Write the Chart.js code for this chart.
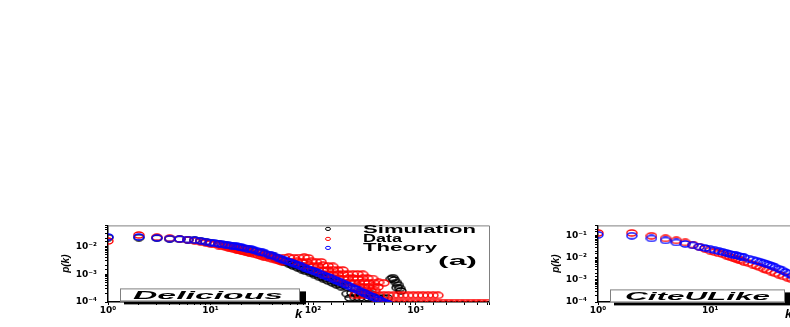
<!DOCTYPE html>
<html>
<head>
<title>Degree distribution p(k)</title>
<script src="https://cdn.jsdelivr.net/npm/chart.js"></script>
<style>
    html, body { margin: 0; padding: 0; background: #fff; }
    body { width: 790px; height: 327px; overflow: hidden; position: relative; }
    canvas { position: absolute; top: 212px; }
    #left { left: 60px; }
    #right { left: 550px; }
</style>
</head>
<body>
<canvas id="left" width="440" height="115" style="width:440px;height:115px"></canvas>
<canvas id="right" width="440" height="115" style="width:440px;height:115px"></canvas>
<script>
// ---- panel (a): Delicious ----
const simK = [1,2,3,4,5,6,7,8,9,10,12,14,16,18,20,23,26,30,34,38,42,47,52,58,64,71,78,86,95,105,116,128,141,155,170,188,
    40,45,50,56,62,68,75,82,90,100,110,122,135,150,165,180,200,215,
    580,600,620,650,660,680,700,720,
    215,240,265,295,330,365,
    230,255,283,315,350,390,430,480,530];
const simP = [0.021,0.021,0.020,0.019,0.0183,0.0175,0.0166,0.0157,0.0147,0.0137,0.0122,0.0110,0.0102,0.0094,0.0087,0.0078,0.0070,0.0060,
    0.0052,0.0045,0.0039,0.0033,0.0028,0.0024,0.0020,0.00172,0.00148,0.00126,0.00108,0.00092,0.00078,0.00066,0.00057,0.00049,0.00042,0.00036,
    0.0047,0.0038,0.0032,0.0027,0.0023,0.0021,0.00175,0.00155,0.00135,0.00115,0.00098,0.00082,0.00071,0.00060,0.00052,0.00046,0.00040,0.00034,
    0.00068,0.00075,0.00062,0.00050,0.00033,0.00040,0.00031,0.00025,
    0.00020,0.00021,0.00020,0.00019,0.00021,0.00020,
    0.00014,0.000145,0.00014,0.000135,0.00014,0.000145,0.00014,0.000135,0.00014];

const dataK = [1,2,3,4,5,6,7,8,9,10,11,12,13,14,15,16,17,18,19,20,21,22,23,24,25,27,29,31,33,35,38,41,44,47,50,
    12,14,16,18,20,23,26,30,34,38,42,46,
    52,58,65,73,82,90,
    62,70,78,87,97,108,120,
    80,90,100,112,125,140,156,
    100,112,125,140,156,175,195,
    125,140,156,175,195,218,244,272,305,
    160,178,198,220,245,273,305,340,380,
    205,228,254,283,315,350,390,435,490,
    255,283,315,350,390,430,
    300,330,365,400,
    255,285,318,355,395,440,490,545,610,680,760,850,950,1060,1180,1320,1480,1650,
    425,480,540,610,690,780,880,1000,1130,1280,1450,1640,1860,2100,2380,2700,3050,3450,3900,4400,5000];
const dataP = [0.0158,0.026,0.0215,0.0196,0.0186,0.0172,0.0163,0.0150,0.0138,0.0125,0.0118,0.0108,0.0102,0.0095,0.0090,0.0085,0.0079,0.0076,0.0072,0.0069,
    0.0066,0.0063,0.0061,0.0058,0.0056,0.0052,0.0049,0.0046,0.0043,0.0041,0.0037,0.0034,0.0032,0.0030,0.0028,
    0.0120,0.0106,0.0097,0.0088,0.0080,0.0072,0.0064,0.0057,0.0050,0.0044,0.0040,0.0036,
    0.0040,0.0041,0.0039,0.0040,0.0041,0.0039,
    0.0028,0.0029,0.0027,0.0028,0.0029,0.0027,0.0028,
    0.0020,0.0021,0.0019,0.0020,0.0021,0.0020,0.0019,
    0.00141,0.00145,0.00138,0.00141,0.00145,0.00138,0.00141,
    0.0010,0.00103,0.00098,0.0010,0.00103,0.00098,0.0010,0.00102,0.00099,
    0.00071,0.00073,0.00069,0.00071,0.00073,0.00069,0.00071,0.00072,0.00070,
    0.00050,0.00052,0.00049,0.00050,0.00052,0.00049,0.00050,0.00051,0.00049,
    0.000355,0.000365,0.000350,0.000355,0.000365,0.000350,
    0.00026,0.000265,0.000255,0.00026,
    0.000174,0.000176,0.000172,0.000174,0.000176,0.000172,0.000174,0.000175,0.000173,0.000174,0.000175,0.000173,0.000174,0.000174,0.000174,0.000174,0.000174,0.000174,
    0.000095,0.000095,0.000095,0.000095,0.000095,0.000095,0.000095,0.000095,0.000095,0.000095,0.000095,0.000095,0.000095,0.000095,0.000095,0.000095,0.000095,0.000095,0.000095,0.000095,0.000095];

const theoK = [1,2,3,4,5,6,7,8,9,10,11,12,13,14,15,16,17,18,19,20,21,23,25,26,28,30,32,34,37,39,42,45,48,51,55,59,63,67,72,77,
    82,88,94,101,108,115,123,132,141,151,162,173,185,198,212,227,243,260,278,297,318,340,364,390,417,446,477,510,546];
const theoP = [0.0221,0.0221,0.0204,0.0192,0.0185,0.0177,0.0169,0.0160,0.0150,0.0139,0.0132,0.0126,0.0120,0.0115,0.0111,0.0107,0.0103,0.0100,0.0096,0.00933,
    0.00902,0.00845,0.00797,0.00766,0.00705,0.00653,0.00608,0.00566,0.00511,0.00480,0.00437,0.00399,0.00367,0.00338,0.00305,0.00276,0.00252,0.00231,0.00209,0.00191,
    0.00174,0.00158,0.00144,0.00130,0.00118,0.00107,0.000966,0.000867,0.000787,0.000710,0.000637,0.000574,0.000516,0.000462,0.000413,0.000367,0.000327,0.000291,0.000260,0.000232,
    0.000207,0.000185,0.000164,0.000146,0.000131,0.000117,0.000104,0.0000925,0.0000818];

// ---- panel (b): CiteULike ----
const citeDataK = [1,2,3,4,5,6,7,8,9,10,11,12,13,14,15,16,17,18,19,20,22,24,26,28,30,32,35,38,41,45,49,54];
const citeDataP = [0.135,0.135,0.100,0.076,0.062,0.050,0.040,0.032,0.026,0.0214,0.0182,0.0158,0.0145,0.0126,0.0112,0.0102,0.0091,0.0083,0.0076,0.0066,
    0.0058,0.0050,0.0043,0.0037,0.0032,0.0028,0.0024,0.0020,0.00174,0.00145,0.00126,0.00105];
const citeTheoK = [1,2,3,4,5,6,7,8,9,10,11,12,13,14,15,16,17,18,19,20,22,24,26,28,30,32,34,36,38,41,44,47,50,54,58];
const citeTheoP = [0.111,0.101,0.076,0.062,0.050,0.043,0.037,0.032,0.028,0.0245,0.0219,0.0200,0.0182,0.0166,0.0151,0.0141,0.0132,0.0123,0.0115,0.0107,
    0.0093,0.0083,0.0074,0.0066,0.0059,0.0052,0.0047,0.0042,0.0037,0.0032,0.0027,0.0023,0.00195,0.00158,0.00129];

// ---- ticks ----
const xTickVals = [1, 10, 100, 1000];
const xTickText = ['10\u2070', '10\u00b9', '10\u00b2', '10\u00b3'];
const yTickValsA = [1e-4, 1e-3, 1e-2];
const yTickTextA = ['10\u207b\u2074', '10\u207b\u00b3', '10\u207b\u00b2'];
const yTickValsB = [1e-4, 1e-3, 1e-2, 1e-1];
const yTickTextB = ['10\u207b\u2074', '10\u207b\u00b3', '10\u207b\u00b2', '10\u207b\u00b9'];

const BLACK = '#000000', RED = '#ff0000', BLUE = '#0000ff';

// open elliptic marker, the original figure is stretched sideways
function ring(color, w, h) {
    const c = document.createElement('canvas');
    c.width = w + 2; c.height = h + 2;
    const g = c.getContext('2d');
    g.strokeStyle = color;
    g.lineWidth = 1.4;
    g.beginPath();
    g.ellipse(c.width / 2, c.height / 2, w / 2, h / 2, 0, 0, Math.PI * 2);
    g.stroke();
    return c;
}

function tickText(v, vals, texts) {
    const i = vals.findIndex(t => Math.abs(Math.log10(v) - Math.log10(t)) < 1e-6);
    return i >= 0 ? texts[i] : '';
}

function wideText(ctx, txt, x, y, font, width) {
    ctx.save();
    ctx.font = font;
    const sx = width / ctx.measureText(txt).width;
    ctx.translate(x, y);
    ctx.scale(sx, 1);
    ctx.fillStyle = '#000';
    ctx.textBaseline = 'alphabetic';
    ctx.fillText(txt, 0, 0);
    ctx.restore();
}

function deco(cfg) {
    return {
        id: 'deco',
        afterDatasetsDraw(chart) {
            const ctx = chart.ctx, a = chart.chartArea;
            ctx.save();
            ctx.strokeStyle = '#808080';
            ctx.lineWidth = 1;
            ctx.beginPath();
            ctx.moveTo(a.left, a.top + 0.5);
            ctx.lineTo(a.right + 0.5, a.top + 0.5);
            ctx.lineTo(a.right + 0.5, a.bottom);
            ctx.stroke();

            // name box with shadow
            const bx = a.left + cfg.box[0], by = a.top + cfg.box[1], bw = cfg.box[2], bh = cfg.box[3];
            ctx.fillStyle = '#000';
            ctx.fillRect(bx + 4, by + 3, bw + 2, bh);
            ctx.fillStyle = '#fff';
            ctx.fillRect(bx, by, bw, bh);
            ctx.strokeStyle = '#808080';
            ctx.strokeRect(bx + 0.5, by + 0.5, bw - 1, bh - 1);
            wideText(ctx, cfg.name, a.left + cfg.nameX, a.top + cfg.nameY, 'italic bold 11px "Liberation Sans", Arial', cfg.nameW);

            if (cfg.legend) {
                chart.data.datasets.forEach((ds, i) => {
                    const row = cfg.legend.rows[i];
                    ctx.strokeStyle = ds.markerColor;
                    ctx.lineWidth = 1;
                    ctx.beginPath();
                    ctx.ellipse(a.left + cfg.legend.markX, a.top + row[0], 2.5, 1.6, 0, 0, Math.PI * 2);
                    ctx.stroke();
                    wideText(ctx, ds.label, a.left + cfg.legend.textX, a.top + row[1], 'bold 10px "Liberation Sans", Arial', row[2]);
                });
                wideText(ctx, cfg.tag, a.left + cfg.tagX, a.top + cfg.tagY, 'bold 13px "Liberation Sans", Arial', cfg.tagW);
            }
            ctx.restore();
        }
    };
}

function pts(ks, ps) {
    return ks.map((k, i) => ({x: k, y: ps[i]}));
}

function makeChart(id, sets, xMax, yMax, yVals, yTexts, cfg) {
    return new Chart(document.getElementById(id), {
        type: 'scatter',
        data: {
            datasets: sets.map(s => ({
                label: s.label,
                data: pts(s.k, s.p),
                markerColor: s.color,
                pointStyle: ring(s.color, 10, 6),
                pointRadius: 3,
                borderColor: s.color,
                backgroundColor: 'rgba(0,0,0,0)',
                order: s.order,
                clip: 0
            }))
        },
        options: {
            responsive: false,
            animation: false,
            devicePixelRatio: 1,
            events: [],
            layout: {padding: {top: 10, right: 11, left: 0, bottom: 0}},
            plugins: {legend: {display: false}, tooltip: {enabled: false}},
            scales: {
                x: {
                    type: 'logarithmic', min: 1, max: xMax,
                    afterFit: s => { s.height = 25; },
                    border: {color: '#000', width: 1.5},
                    grid: {drawOnChartArea: false, tickLength: 3, color: '#000'},
                    ticks: {
                        autoSkip: false, maxRotation: 0, padding: 0, color: '#000',
                        font: {family: 'DejaVu Sans', weight: 'bold', size: 9},
                        callback: v => tickText(v, xTickVals, xTickText)
                    },
                    title: {display: true, text: 'k', color: '#000', padding: {top: 0, bottom: 5},
                        font: {family: 'Liberation Sans', weight: 'bold', style: 'italic', size: 13}}
                },
                y: {
                    type: 'logarithmic', min: 1e-4, max: yMax,
                    afterFit: s => { s.width = 48; },
                    border: {color: '#000', width: 1.5},
                    grid: {drawOnChartArea: false, tickLength: 3, color: '#000'},
                    ticks: {
                        autoSkip: false, padding: 8, color: '#000',
                        font: {family: 'DejaVu Sans', weight: 'bold', size: 9},
                        callback: v => tickText(v, yVals, yTexts)
                    },
                    title: {display: true, text: 'p(k)', color: '#000', padding: 0,
                        font: {family: 'Liberation Sans', weight: 'bold', style: 'italic', size: 10}}
                }
            }
        },
        plugins: [deco(cfg)]
    });
}

makeChart('left', [
    {label: 'Simulation', k: simK, p: simP, color: BLACK, order: 3},
    {label: 'Data', k: dataK, p: dataP, color: RED, order: 2},
    {label: 'Theory', k: theoK, p: theoP, color: BLUE, order: 1}
], 5200, 0.0574, yTickValsA, yTickTextA, {
    box: [12, 63, 180, 13], name: 'Delicious', nameX: 25, nameY: 74, nameW: 150,
    legend: {markX: 220, textX: 255, rows: [[3.5, 8, 113], [13.5, 17, 39], [22.5, 26, 74]]},
    tag: '(a)', tagX: 330, tagY: 40, tagW: 39
});

makeChart('right', [
    {label: 'Data', k: citeDataK, p: citeDataP, color: RED, order: 2},
    {label: 'Theory', k: citeTheoK, p: citeTheoP, color: BLUE, order: 1}
], 2500, 0.296, yTickValsB, yTickTextB, {
    box: [12, 64, 175, 13], name: 'CiteULike', nameX: 27, nameY: 75, nameW: 145
});
</script>
</body>
</html>
